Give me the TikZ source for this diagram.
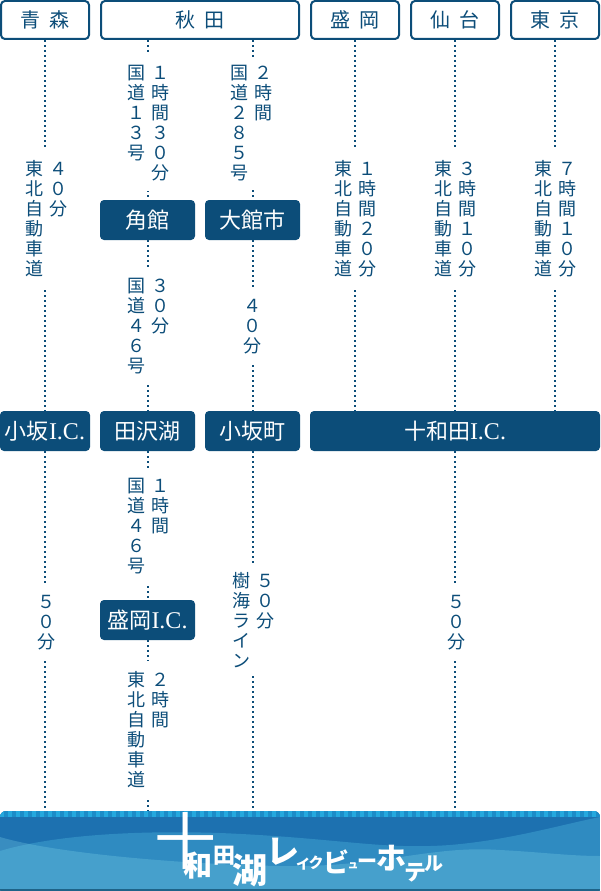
\documentclass[tikz,border=0pt]{standalone}
\usepackage{fontspec}
\setmainfont{Noto Sans CJK JP}
\newfontfamily\latinfont{Liberation Serif}
\usetikzlibrary{positioning}
\definecolor{navy}{HTML}{0C4D79}
\definecolor{waveone}{RGB}{90,200,235}
\definecolor{wavetwo}{RGB}{130,215,235}
\newcommand{\ic}{{\latinfont\fontsize{24}{24}\selectfont I.C.}}
\newcommand{\tatesingle}[1]{\parbox[t]{20pt}{\centering\vphantom{国}#1}}
\newcommand{\tate}[2]{\tatesingle{#1}\hspace{4pt}\tatesingle{#2}}
\tikzset{
  city/.style={draw=navy,line width=2pt,rounded corners=4pt,fill=white,text=navy,
    font=\fontsize{20}{22}\selectfont,minimum height=38pt,inner sep=0pt},
  stop/.style={fill=navy,rounded corners=4pt,text=white,
    font=\fontsize{22}{24}\selectfont,minimum height=40pt,inner sep=0pt},
  road/.style={draw=navy,line width=2pt,dash pattern=on 2pt off 3pt},
  tatelabel/.style={anchor=north,fill=white,text=navy,inner xsep=0pt,inner ysep=10pt,
    font=\fontsize{18}{20}\selectfont},
  logo/.style={text=white,inner sep=0pt}
}
\begin{document}
\begin{tikzpicture}[x=1pt,y=-1pt]
  \useasboundingbox (0,0) rectangle (600,891);
  % banner
  \begin{scope}
    \clip[rounded corners=6pt] (0,811) rectangle (600,895);
    \fill[color={rgb,255:red,29;green,113;blue,176}] (0,811) rectangle (600,891);
    \fill[waveone,opacity=.3] (0,851) .. controls (50,836) and (130,830) .. (220,833)
      .. controls (340,838) and (380,850) .. (450,845)
      .. controls (510,840) and (560,825) .. (600,817) -- (600,891) -- (0,891) -- cycle;
    \fill[wavetwo,opacity=.28] (0,837) .. controls (50,852) and (170,864) .. (280,866)
      .. controls (380,868) and (430,845) .. (500,850)
      .. controls (540,852) and (570,856) .. (600,856) -- (600,891) -- (0,891) -- cycle;
    \fill[color={rgb,255:red,28;green,140;blue,200}] (0,811) rectangle (600,817);
    \draw[color={rgb,255:red,37;green,168;blue,222},line width=6pt,dash pattern=on 4pt off 4pt] (0,814) -- (600,814);
    \fill[color={rgb,255:red,30;green,99;blue,136}] (0,889) rectangle (600,891);
  \end{scope}
  % towns
  \node[city,minimum width=88pt] (aomori) at (45,20) {青\hspace{9pt}森};
  \node[city,minimum width=198pt] (akita) at (200,20) {秋\hspace{9pt}田};
  \node[city,minimum width=88pt] (morioka) at (355,20) {盛\hspace{9pt}岡};
  \node[city,minimum width=88pt] (sendai) at (455,20) {仙\hspace{9pt}台};
  \node[city,minimum width=88pt] (tokyo) at (555,20) {東\hspace{9pt}京};
  \node[stop,minimum width=95pt] (kakunodate) at (147.5,220) {角館};
  \node[stop,minimum width=95pt] (odate) at (252.5,220) {大館市};
  \node[stop,minimum width=90pt] (kosakaic) at (45,431) {小坂\ic};
  \node[stop,minimum width=95pt] (tazawako) at (147.5,431) {田沢湖};
  \node[stop,minimum width=95pt] (kosaka) at (252.5,431) {小坂町};
  \node[stop,minimum width=290pt] (towadaic) at (455,431) {十和田\ic};
  \node[stop,minimum width=95pt] (moriokaic) at (147.5,620) {盛岡\ic};
  \node[inner sep=0pt,minimum width=600pt,minimum height=80pt] (hotel) at (300,851) {};
  % roads
  \draw[road] (aomori) -- (kosakaic);
  \draw[road] (kosakaic) -- (kosakaic |- hotel.north);
  \draw[road] (kakunodate |- akita.south) -- (kakunodate);
  \draw[road] (odate |- akita.south) -- (odate);
  \draw[road] (kakunodate) -- (tazawako);
  \draw[road] (odate) -- (kosaka);
  \draw[road] (tazawako) -- (moriokaic);
  \draw[road] (moriokaic) -- (moriokaic |- hotel.north);
  \draw[road] (kosaka) -- (kosaka |- hotel.north);
  \draw[road] (morioka) -- (morioka |- towadaic.north);
  \draw[road] (sendai) -- (sendai |- towadaic.north);
  \draw[road] (tokyo) -- (tokyo |- towadaic.north);
  \draw[road] (towadaic) -- (towadaic |- hotel.north);
  % times
  \node[tatelabel] (t1) at (46,150) {\tate{東\\北\\自\\動\\車\\道}{４\\０\\分}};
  \node[tatelabel] (t2) at (148,55) {\tate{国\\道\\１\\３\\号}{１\\時\\間\\３\\０\\分}};
  \node[tatelabel,inner ysep=6pt] (t3) at (251,59) {\tate{国\\道\\２\\８\\５\\号}{２\\時\\間}};
  \node[tatelabel] (t4) at (148,268) {\tate{国\\道\\４\\６\\号}{３\\０\\分}};
  \node[tatelabel] (t5) at (252,288) {\tatesingle{４\\０\\分}};
  \node[tatelabel] (t6) at (46,584) {\tatesingle{５\\０\\分}};
  \node[tatelabel] (t7) at (148,468) {\tate{国\\道\\４\\６\\号}{１\\時\\間}};
  \node[tatelabel] (t8) at (148,661) {\tate{東\\北\\自\\動\\車\\道}{２\\時\\間}};
  \node[tatelabel,inner ysep=8pt] (t9) at (253,564) {\tate{樹\\海\\ラ\\イ\\ン}{５\\０\\分}};
  \node[tatelabel] (t10) at (355,150) {\tate{東\\北\\自\\動\\車\\道}{１\\時\\間\\２\\０\\分}};
  \node[tatelabel] (t11) at (455,150) {\tate{東\\北\\自\\動\\車\\道}{３\\時\\間\\１\\０\\分}};
  \node[tatelabel] (t12) at (555,150) {\tate{東\\北\\自\\動\\車\\道}{７\\時\\間\\１\\０\\分}};
  \node[tatelabel] (t13) at (456,584) {\tatesingle{５\\０\\分}};
  % logo
  \node[logo,font=\fontsize{62}{62}\selectfont] (l1) at (185,841) {十};
  \node[logo,font=\fontsize{29}{29}\selectfont\bfseries] (l2) at (198,866) {和};
  \node[logo,font=\fontsize{22}{22}\selectfont\bfseries] (l3) at (224,856) {田};
  \node[logo,font=\fontsize{35}{35}\selectfont\bfseries] (l4) at (250,870) {湖};
  \node[logo,font=\fontsize{33}{33}\selectfont\bfseries] (l5) at (283,852) {レ};
  \node[logo,font=\fontsize{14}{14}\selectfont\bfseries] (l6) at (303,864) {イ};
  \node[logo,font=\fontsize{15}{15}\selectfont\bfseries] (l7) at (316,863) {ク};
  \node[logo,font=\fontsize{26}{26}\selectfont\bfseries] (l8) at (336,862) {ビ};
  \node[logo,font=\fontsize{11}{11}\selectfont\bfseries] (l9) at (353,866) {ュ};
  \node[logo,font=\fontsize{20}{20}\selectfont\bfseries] (l10) at (367,864) {ー};
  \node[logo,font=\fontsize{30}{30}\selectfont\bfseries] (l11) at (391,858) {ホ};
  \node[logo,font=\fontsize{22}{22}\selectfont\bfseries] (l12) at (415,873) {テ};
  \node[logo,font=\fontsize{19}{19}\selectfont\bfseries] (l13) at (434,864) {ル};
\end{tikzpicture}
\end{document}
